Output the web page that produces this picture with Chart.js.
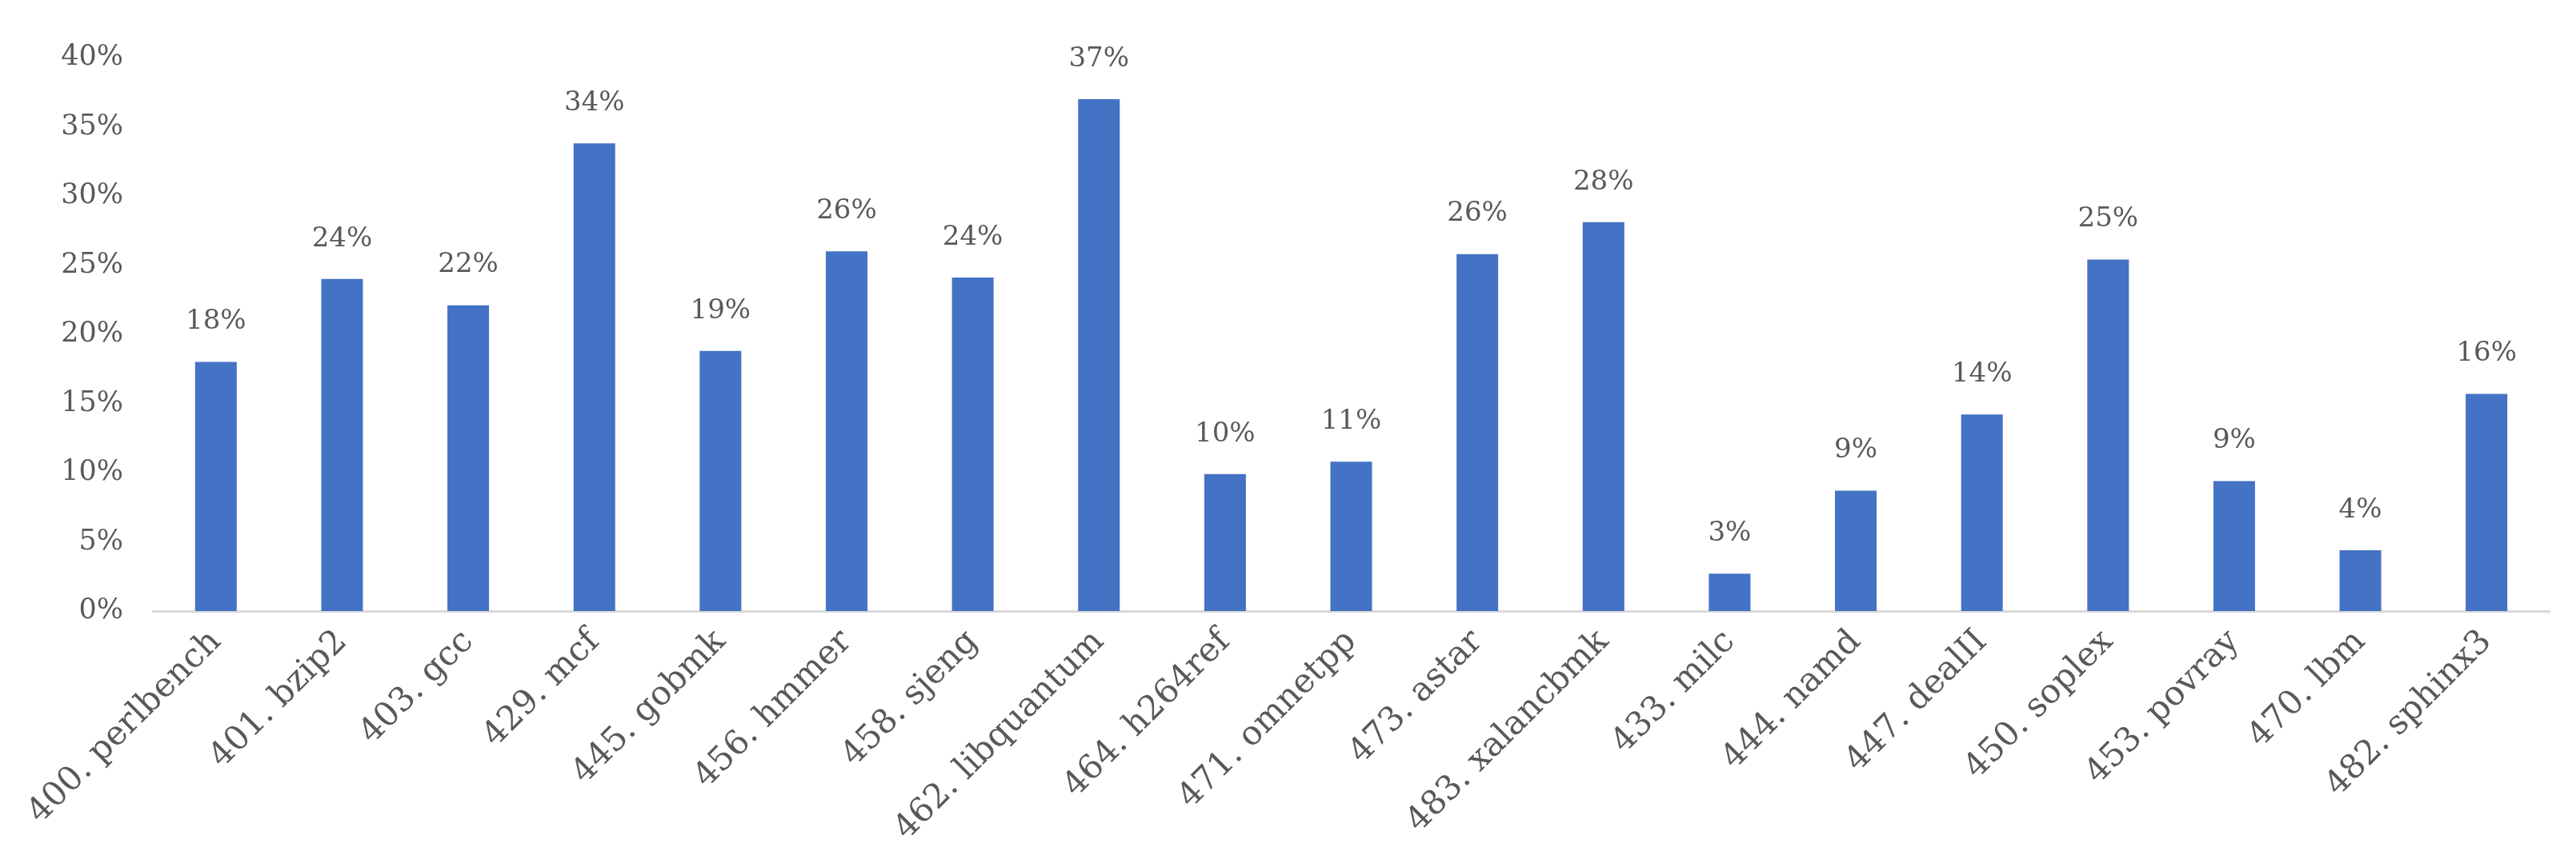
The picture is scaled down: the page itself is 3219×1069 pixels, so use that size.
<!DOCTYPE html>
<html>
<head>
<meta charset="utf-8">
<script src="https://cdn.jsdelivr.net/npm/chart.js@4"></script>
<style>
  html, body { margin: 0; padding: 0; background: #ffffff; }
  canvas { display: block; }
</style>
</head>
<body>
<canvas id="c" width="3219" height="1069"></canvas>
<script>
const categories = [
  "400. perlbench", "401. bzip2", "403. gcc", "429. mcf", "445. gobmk",
  "456. hmmer", "458. sjeng", "462. libquantum", "464. h264ref", "471. omnetpp",
  "473. astar", "483. xalancbmk", "433. milc", "444. namd", "447. dealII",
  "450. soplex", "453. povray", "470. lbm", "482. sphinx3"
];
const values = [
  18.0, 24.0, 22.1, 33.8, 18.8,
  26.0, 24.1, 37.0, 9.9, 10.8,
  25.8, 28.1, 2.7, 8.7, 14.2,
  25.4, 9.4, 4.4, 15.7
];
const yTicks = [0, 5, 10, 15, 20, 25, 30, 35, 40];

const FONT = "'DejaVu Serif', 'Liberation Serif', serif";
const TEXT = "#595959";

const dataLabels = {
  id: 'dataLabels',
  afterDatasetsDraw(chart) {
    const ctx = chart.ctx;
    const meta = chart.getDatasetMeta(0);
    ctx.save();
    ctx.font = "34px " + FONT;
    ctx.fillStyle = TEXT;
    ctx.textAlign = 'center';
    ctx.textBaseline = 'middle';
    meta.data.forEach((bar, i) => {
      ctx.fillText(Math.round(values[i]) + '%', bar.x, bar.y - 50);
    });
    ctx.restore();
  }
};

new Chart(document.getElementById('c'), {
  type: 'bar',
  data: {
    labels: categories,
    datasets: [{
      data: values,
      backgroundColor: '#4472C4',
      borderWidth: 0,
      barPercentage: 0.33,
      categoryPercentage: 1.0
    }]
  },
  options: {
    responsive: false,
    animation: false,
    layout: { padding: { left: 0, right: 33, top: 72, bottom: 0 } },
    plugins: { legend: { display: false }, tooltip: { enabled: false } },
    scales: {
      x: {
        afterFit(scale) { scale.height = 305; },
        grid: { display: false, drawTicks: false },
        border: { display: true, color: '#D9D9D9', width: 3 },
        ticks: {
          maxRotation: 45, minRotation: 45,
          autoSkip: false,
          padding: 14,
          color: TEXT,
          font: { family: FONT, size: 42 }
        }
      },
      y: {
        min: 0, max: 40,
        afterFit(scale) { scale.width = 191; },
        afterBuildTicks(scale) { scale.ticks = yTicks.map(v => ({ value: v })); },
        grid: { display: false, drawTicks: false },
        border: { display: false },
        ticks: {
          padding: 37,
          color: TEXT,
          font: { family: FONT, size: 35 },
          callback: v => v + '%'
        }
      }
    }
  },
  plugins: [dataLabels]
});
</script>
</body>
</html>
